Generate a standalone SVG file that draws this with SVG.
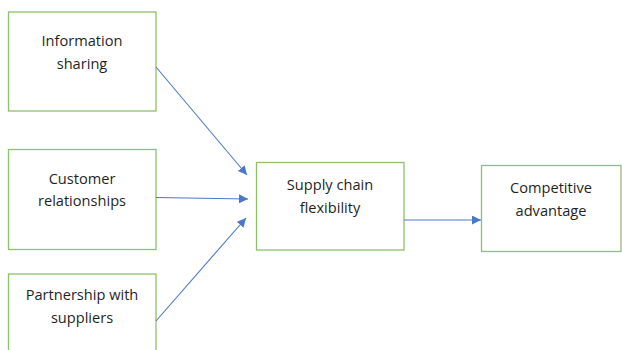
<svg xmlns="http://www.w3.org/2000/svg" width="622" height="350" viewBox="0 0 622 350">
  <defs>
    <style>
      .box { fill: #ffffff; stroke: #8fc16b; stroke-width: 1.3; }
      .lbl { font-family: "Open Sans", "Liberation Sans", sans-serif; font-size: 14.6px; fill: #1f1f1f; text-anchor: middle; }
      .edge { stroke: #4a78c8; stroke-width: 1.1; fill: none; marker-end: url(#arrow); }
    </style>
    <marker id="arrow" viewBox="0 0 10 10" refX="10" refY="5" markerWidth="9" markerHeight="9" markerUnits="userSpaceOnUse" orient="auto">
      <path d="M0,0 L10,5 L0,10 z" fill="#4a78c8"/>
    </marker>
  </defs>
  <rect width="622" height="350" fill="#ffffff"/>

  <g id="node-information-sharing">
    <rect class="box" x="8.5" y="12" width="147.5" height="99"/>
    <text class="lbl" x="82" y="45.5">Information</text>
    <text class="lbl" x="82" y="69">sharing</text>
  </g>

  <g id="node-customer-relationships">
    <rect class="box" x="8.5" y="149.5" width="147.5" height="100"/>
    <text class="lbl" x="82" y="183.5">Customer</text>
    <text class="lbl" x="82" y="205.5">relationships</text>
  </g>

  <g id="node-partnership-suppliers">
    <rect class="box" x="8.5" y="274" width="147.5" height="100"/>
    <text class="lbl" x="82" y="300">Partnership with</text>
    <text class="lbl" x="82" y="323">suppliers</text>
  </g>

  <g id="node-supply-chain-flexibility">
    <rect class="box" x="256.5" y="162.5" width="147.5" height="87.5"/>
    <text class="lbl" x="330" y="190">Supply chain</text>
    <text class="lbl" x="330" y="213">flexibility</text>
  </g>

  <g id="node-competitive-advantage">
    <rect class="box" x="481.5" y="165.5" width="139.5" height="86"/>
    <text class="lbl" x="551" y="192.5">Competitive</text>
    <text class="lbl" x="551" y="215.5">advantage</text>
  </g>

  <g id="connectors">
    <line class="edge" x1="156" y1="67" x2="247" y2="175"/>
    <line class="edge" x1="156" y1="197.5" x2="248" y2="199"/>
    <line class="edge" x1="156" y1="321" x2="246" y2="218"/>
    <line class="edge" x1="404" y1="220" x2="481" y2="220"/>
  </g>
</svg>
